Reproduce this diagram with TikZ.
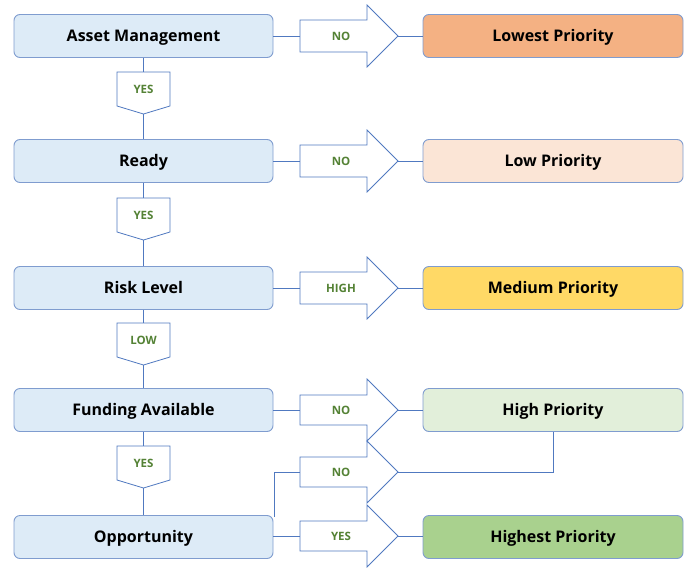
\documentclass[tikz,border=0pt]{standalone}
\usepackage{fontspec}
\setmainfont{Open Sans}
\definecolor{leftfill}{HTML}{DDEBF7}
\definecolor{boxline}{HTML}{7F9CCF}
\definecolor{arrline}{HTML}{5079C0}
\definecolor{lowest}{HTML}{F4B183}
\definecolor{low}{HTML}{FBE5D6}
\definecolor{medium}{HTML}{FFD966}
\definecolor{high}{HTML}{E2EFDA}
\definecolor{highest}{HTML}{A9D18E}
\definecolor{lblgreen}{HTML}{548235}
\tikzset{
  box/.style={draw=boxline, line width=0.9pt, rounded corners=6pt, minimum height=43pt, inner sep=0pt,
    font=\fontsize{16}{19}\selectfont\bfseries, text=black, text height=11.5pt, text depth=0pt},
  leftbox/.style={box, fill=leftfill, minimum width=259pt},
  rightbox/.style={box, minimum width=260pt},
  arr/.style={draw=arrline, line width=0.8pt, fill=white, line join=miter},
  lbl/.style={font=\fontsize{11.5}{13}\selectfont\bfseries, text=lblgreen, inner sep=1pt,
    text height=8.2pt, text depth=0pt},
  conn/.style={draw=arrline, line width=0.8pt}
}
\newcommand\myrarrow[4]{% name, y, label, half thickness
  \draw[arr] (300,#2-#4) -- (367,#2-#4) -- (367,#2-31) -- (398,#2) -- (367,#2+31) -- (367,#2+#4) -- (300,#2+#4) -- cycle;
  \coordinate (#1in) at (300,#2);
  \coordinate (#1tip) at (398,#2);
  \node[lbl] (#1lbl) at (341,#2) {#3};}
\newcommand\mydarrow[3]{% name, top y, label
  \draw[arr] (117,#2) -- (170,#2) -- (170,#2+34) -- (143.5,#2+42) -- (117,#2+34) -- cycle;
  \coordinate (#1in) at (143.5,#2);
  \coordinate (#1tip) at (143.5,#2+42);
  \node[lbl] (#1lbl) at (143.5,#2+17) {#3};}
\begin{document}
\begin{tikzpicture}[x=1pt,y=-1pt]
\useasboundingbox (0,0) rectangle (684,567);
% left boxes
\node[leftbox] (am)  at (143.5,36)  {Asset Management};
\node[leftbox] (rd)  at (143.5,161) {Ready};
\node[leftbox] (rl)  at (143.5,288) {Risk Level};
\node[leftbox] (fa)  at (143.5,410) {Funding Available};
\node[leftbox] (op)  at (143.5,537) {Opportunity};
% right boxes
\node[rightbox, fill=lowest]  (p1) at (553,36)  {Lowest Priority};
\node[rightbox, fill=low]     (p2) at (553,161) {Low Priority};
\node[rightbox, fill=medium]  (p3) at (553,288) {Medium Priority};
\node[rightbox, fill=high]    (p4) at (553,410) {High Priority};
\node[rightbox, fill=highest] (p5) at (553,537) {Highest Priority};
% horizontal arrows
\myrarrow{a1}{36}{NO}{16}
\myrarrow{a2}{161}{NO}{16}
\myrarrow{a3}{288}{HIGH}{16}
\myrarrow{a4}{410}{NO}{15}
\myrarrow{a5}{472}{NO}{15}
\myrarrow{a6}{536}{YES}{15}
% vertical arrows
\mydarrow{d1}{72}{YES}
\mydarrow{d2}{198}{YES}
\mydarrow{d3}{323}{LOW}
\mydarrow{d4}{446}{YES}
% connectors
\draw[conn] (am.east) -- (a1in);
\draw[conn] (a1tip) -- (p1.west);
\draw[conn] (rd.east) -- (a2in);
\draw[conn] (a2tip) -- (p2.west);
\draw[conn] (rl.east) -- (a3in);
\draw[conn] (a3tip) -- (p3.west);
\draw[conn] (fa.east) -- (a4in);
\draw[conn] (a4tip) -- (p4.west);
\draw[conn] ([xshift=0.5pt,yshift=-2pt]op.north east) |- (a5in);
\draw[conn] (a5tip) -| (p4.south);
\draw[conn] (op.east |- a6in) -- (a6in);
\draw[conn] (a6tip) -- (p5.west |- a6tip);
\draw[conn] (am.south) -- (d1in);
\draw[conn] (d1tip) -- (rd.north);
\draw[conn] (rd.south) -- (d2in);
\draw[conn] (d2tip) -- (rl.north);
\draw[conn] (rl.south) -- (d3in);
\draw[conn] (d3tip) -- (fa.north);
\draw[conn] (fa.south) -- (d4in);
\draw[conn] (d4tip) -- (op.north);
\end{tikzpicture}
\end{document}
